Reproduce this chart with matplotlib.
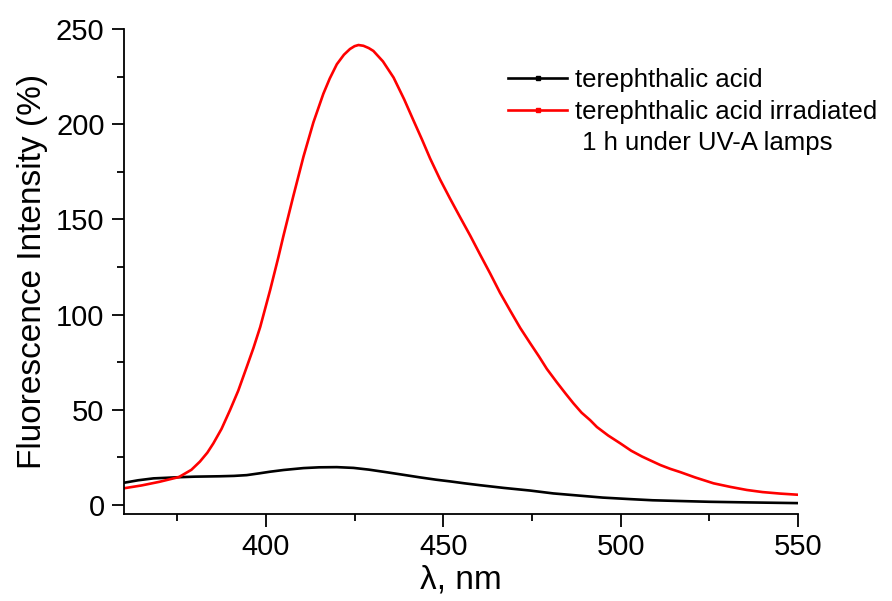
import matplotlib
matplotlib.use("Agg")
import matplotlib.pyplot as plt
from matplotlib.lines import Line2D

plt.rcParams['font.family'] = ['Liberation Sans', 'DejaVu Sans']

# Data
wl_black = [360, 364, 368.3, 372, 375.3, 380, 387, 391, 394.6, 398, 401.2,
            405, 410.6, 415, 420, 424.7, 429, 434.1, 439, 443.5, 448, 452,
            456, 460.4, 467, 474.5, 481, 488.6, 495, 502.7, 509, 516.8, 525,
            535, 550]
int_black = [11.7, 13.0, 14.0, 14.3, 14.6, 14.9, 15.1, 15.3, 15.7, 16.6, 17.5,
             18.4, 19.4, 19.8, 19.9, 19.5, 18.6, 17.2, 15.8, 14.5, 13.3, 12.4,
             11.4, 10.4, 9.0, 7.6, 6.1, 4.9, 3.9, 3.1, 2.5, 2.1, 1.7,
             1.4, 1.0]

wl_red = [360, 365, 370, 375.5, 379, 381.4, 383.5, 385.2, 387.5, 389.9,
          392.2, 394.6, 396.5, 398.4, 401.2, 403.5, 404.9, 407.7, 410.6, 413.4,
          416.2, 418, 420, 422, 423.7, 425, 426.1, 427.5, 429, 430.3,
          433, 436, 439, 441.6, 444, 446.3, 449.1, 451.9, 454.8, 457.6,
          460.4, 463.2, 466, 468.9, 471.7, 474.5, 477, 479.2, 482, 484.5,
          486.7, 489, 491.4, 493.3, 496.5, 499.9, 503, 506, 508.3, 511.2,
          514, 516.8, 521, 526.2, 531, 535.6, 540, 545, 550]
int_red = [8.8, 10.3, 12.2, 14.7, 18.5, 22.8, 27.5, 32.4, 40, 49.9,
           60, 72.5, 82.5, 93.5, 112.9, 130, 141, 162, 183, 201,
           216, 224, 231.5, 236.5, 239.5, 241, 241.6, 241.2, 240, 238.5,
           233, 224.5, 213, 202, 192, 182, 171, 161, 151, 141.5,
           131.5, 121.7, 111.5, 102, 93, 85, 78, 71.5, 64.5, 58.5,
           53.4, 48.5, 44.6, 41, 36.5, 32.4, 28.5, 25.5, 23.5, 21,
           19, 17.3, 14.5, 11.4, 9.5, 7.9, 6.8, 6.0, 5.4]

label_black = "terephthalic acid"
label_red = "terephthalic acid irradiated"
label_red2 = " 1 h under UV-A lamps"

fig = plt.figure(figsize=(8.92, 6.01), dpi=100)
ax = fig.add_axes([0.139, 0.1448, 0.7556, 0.8069])

ax.plot(wl_black, int_black, color='black', lw=1.9)
ax.plot(wl_red, int_red, color='red', lw=1.9)

ax.set_xlim(360, 550)
ax.set_ylim(-4.7, 250)
ax.set_xticks([400, 450, 500, 550])
ax.set_xticks([375, 425, 475, 525], minor=True)
ax.set_yticks([0, 50, 100, 150, 200, 250])
ax.set_yticks([25, 75, 125, 175, 225], minor=True)

for s in ['top', 'right']:
    ax.spines[s].set_visible(False)
for s in ['left', 'bottom']:
    ax.spines[s].set_linewidth(1.3)

ax.tick_params(which='major', direction='out', length=9, width=1.3,
               labelsize=21, pad=5)
ax.tick_params(which='minor', direction='out', length=5, width=1.3)

ax.set_xlabel("λ, nm", fontsize=24, labelpad=2)
ax.set_ylabel("Fluorescence Intensity (%)", fontsize=24, labelpad=6)

handles = [Line2D([], [], color='black', lw=1.9, marker='s', markersize=2.5),
           Line2D([], [], color='red', lw=1.9, marker='s', markersize=2.5),
           Line2D([], [], color='none', lw=0)]
leg = ax.legend(handles, [label_black, label_red, label_red2], loc='upper left',
                bbox_to_anchor=(0.57, 0.92), frameon=False, fontsize=18.5,
                handlelength=2.3, handletextpad=0.3, labelspacing=0.3,
                borderaxespad=0, borderpad=0)

fig.savefig("out.png", dpi=100)
